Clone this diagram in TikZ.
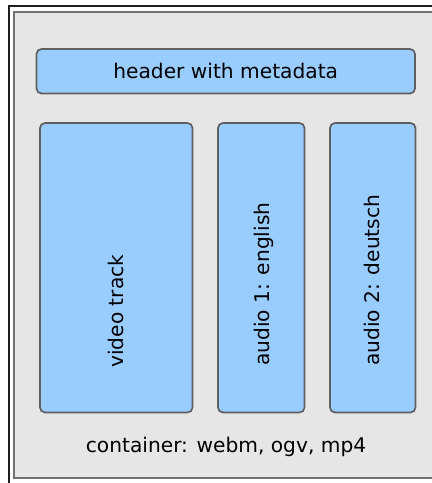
\documentclass[tikz,border=0pt]{standalone}
\usepackage{fontspec}
\setmainfont{DejaVu Sans}
\begin{document}
\begin{tikzpicture}[x=1pt,y=-1pt,
  trackbox/.style={draw=boxline, fill=boxfill, line width=1.7pt, rounded corners=5pt, inner sep=0pt},
  lbl/.style={font=\fontsize{20.2}{23}\selectfont, text=black, inner sep=0pt},
  vlbl/.style={lbl, rotate=90, anchor=base west}]
\definecolor{boxfill}{HTML}{99CCFF}
\definecolor{boxline}{HTML}{606060}
\definecolor{bgfill}{HTML}{E6E6E6}
\definecolor{frameline}{HTML}{707070}
\definecolor{darkline}{HTML}{1E1E1E}
\useasboundingbox (0,0) rectangle (432,483);
\clip (0,0) rectangle (432,483);
\fill[white] (0,0) rectangle (432,483);
\draw[darkline, line width=2.6pt] (9,5.8) rectangle (460,520);
\draw[frameline, line width=2pt, fill=bgfill] (14,11.5) rectangle (450,478);
\node[trackbox, minimum width=378.5pt, minimum height=44.5pt, lbl] (header) at (225.75,71.25) {header with metadata};
\node[trackbox, minimum width=152.5pt, minimum height=289.5pt] (video) at (116.25,267.75) {};
\node[trackbox, minimum width=86.5pt, minimum height=289.5pt] (audio1) at (261.25,267.75) {};
\node[trackbox, minimum width=85.5pt, minimum height=289.5pt] (audio2) at (372.75,267.75) {};
\node[vlbl] (videotxt) at (123,368) {video track};
\node[vlbl] (audio1txt) at (269,366) {audio 1: english};
\node[vlbl] (audio2txt) at (379.5,366) {audio 2: deutsch};
\node[lbl, anchor=base] (container) at (226,452) {container: webm, ogv, mp4};
\end{tikzpicture}
\end{document}
